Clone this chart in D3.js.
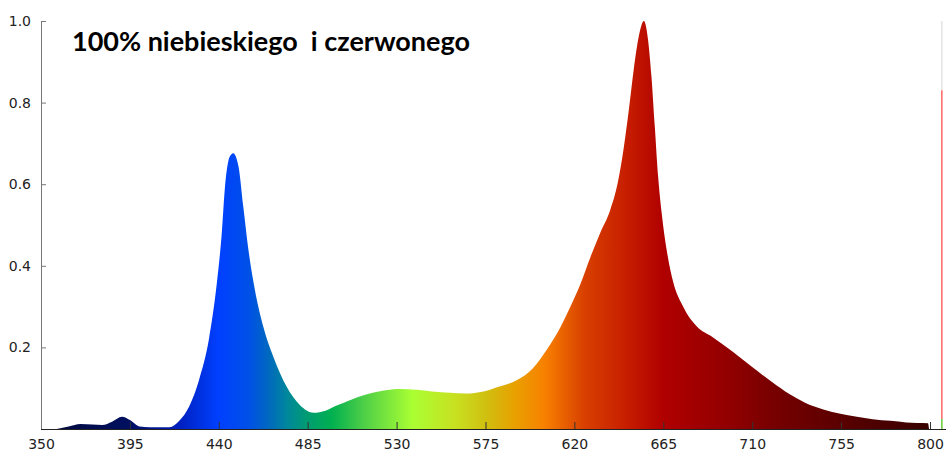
<!DOCTYPE html>
<html>
<head>
<meta charset="utf-8">
<script src="https://cdn.jsdelivr.net/npm/d3@7"></script>
<style>
  body { margin: 0; background: #fff; }
  .tick text { font-family: "DejaVu Sans", sans-serif; font-size: 14px; fill: #222; }
  .title { font-family: Lato, "Open Sans", sans-serif; font-weight: bold; font-size: 26px; white-space: pre; }
</style>
</head>
<body>
<div id="chart"></div>
<script>
var svgWidth = 946;
var svgHeight = 452;

var margin = { top: 21, bottom: 23, left: 41, right: 16 };

// spectrum
var wavelength = [358, 364, 370, 376, 381, 386, 391, 395, 400, 405, 415, 420, 425, 430, 435, 439, 441.5, 443, 445.5, 447.3, 450, 452.4, 455, 458.3, 462.5, 467.6, 474.3, 481, 488, 494, 500, 506, 515, 523, 532, 540, 548, 557, 565, 574, 582, 591, 599, 606, 613, 618, 623, 628, 633, 638, 642, 645, 647.5, 650, 652.5, 655.2, 657.3, 659, 660.7, 662.4, 665, 667, 670, 675, 682, 690, 700, 710, 720, 729, 737, 746, 754, 763, 771, 780, 788, 799, 799.5];
var intensity = [0, 0.006, 0.012, 0.011, 0.010, 0.018, 0.030, 0.022, 0.006, 0.004, 0.004, 0.02, 0.055, 0.12, 0.22, 0.357, 0.48, 0.586, 0.667, 0.676, 0.643, 0.545, 0.439, 0.34, 0.251, 0.177, 0.104, 0.059, 0.040, 0.045, 0.058, 0.070, 0.085, 0.094, 0.098, 0.096, 0.092, 0.089, 0.087, 0.092, 0.104, 0.12, 0.149, 0.194, 0.25, 0.30, 0.355, 0.42, 0.48, 0.535, 0.605, 0.69, 0.78, 0.88, 0.96, 1.0, 0.953, 0.864, 0.741, 0.618, 0.496, 0.43, 0.36, 0.30, 0.251, 0.225, 0.19, 0.152, 0.115, 0.085, 0.064, 0.048, 0.038, 0.030, 0.024, 0.020, 0.016, 0.014, 0];

// colour of the fill along the wavelength axis
var stopNm = [350, 395, 420, 440, 455, 465, 475, 485, 497, 512, 538, 560, 575, 590, 605, 625, 645, 665, 700, 720, 760, 800];
var stopColor = ["#000838", "#001060", "#0020c0", "#0040ff", "#0050e8", "#0068c0", "#00889a", "#009c70", "#00b050", "#48cc48", "#aaff33", "#c8e020", "#d0c010", "#e8a000", "#f88000", "#d84000", "#c82000", "#b00000", "#900000", "#780000", "#560000", "#380000"];

var xTicks = [350, 395, 440, 485, 530, 575, 620, 665, 710, 755, 800];
var yTicks = [0.2, 0.4, 0.6, 0.8, 1.0];

// thin line at the right edge
var markerNm = 806;
var markerSegments = [
  { from: 1.0, to: 0.83, color: "#e4e4e4" },
  { from: 0.83, to: 0.0245, color: "#ff6464" },
  { from: 0.0245, to: 0, color: "#66cc33" }
];

var titleText = "100% niebieskiego  i czerwonego";

var chartHeight = svgHeight - margin.top - margin.bottom;

var svg = d3.select("#chart")
  .append("svg")
  .attr("width", svgWidth)
  .attr("height", svgHeight);

var xScale = d3.scaleLinear()
  .domain([350, 800])
  .range([margin.left, 930]);

var yScale = d3.scaleLinear()
  .domain([0, 1])
  .range([margin.top + chartHeight, margin.top]);

var spectrum = wavelength.map(function(w, i) { return { w: w, v: intensity[i] }; });

// gradient
var grad = svg.append("defs").append("linearGradient")
  .attr("id", "specGrad")
  .attr("gradientUnits", "userSpaceOnUse")
  .attr("x1", xScale(350)).attr("x2", xScale(800))
  .attr("y1", 0).attr("y2", 0);

grad.selectAll("stop")
  .data(stopNm)
  .enter()
  .append("stop")
  .attr("offset", function(d) { return (d - 350) / 450; })
  .attr("stop-color", function(d, i) { return stopColor[i]; });

var area = d3.area()
  .x(function(d) { return xScale(d.w); })
  .y0(yScale(0))
  .y1(function(d) { return yScale(d.v); })
  .curve(d3.curveMonotoneX);

svg.append("path")
  .datum(spectrum)
  .attr("d", area)
  .attr("fill", "url(#specGrad)");

// right edge line
svg.selectAll(".marker")
  .data(markerSegments)
  .enter()
  .append("line")
  .attr("x1", xScale(markerNm)).attr("x2", xScale(markerNm))
  .attr("y1", function(d) { return yScale(d.from); })
  .attr("y2", function(d) { return yScale(d.to); })
  .attr("stroke", function(d) { return d.color; })
  .attr("stroke-width", 1.5);

// axes
var xAxis = d3.axisBottom(xScale)
  .tickValues(xTicks)
  .tickSize(-7)
  .tickPadding(10)
  .tickFormat(d3.format("d"));

var xg = svg.append("g")
  .attr("transform", "translate(0," + yScale(0) + ")")
  .call(xAxis);
xg.select(".domain").remove();
xg.selectAll(".tick line").attr("stroke", "#333");
xg.append("line")
  .attr("x1", margin.left).attr("x2", svgWidth)
  .attr("y1", 0.5).attr("y2", 0.5)
  .attr("stroke", "#222");

var yAxis = d3.axisLeft(yScale)
  .tickValues(yTicks)
  .tickSize(-5)
  .tickPadding(10)
  .tickFormat(d3.format(".1f"));

var yg = svg.append("g")
  .attr("transform", "translate(" + margin.left + ",0)")
  .call(yAxis);
yg.select(".domain")
  .attr("d", "M0.5," + yScale(1) + "V" + yScale(0))
  .attr("stroke", "#777");
yg.selectAll(".tick line").attr("stroke", "#777");

// title
svg.append("text")
  .attr("class", "title")
  .attr("x", 72)
  .attr("y", 51)
  .attr("textLength", 398)
  .attr("lengthAdjust", "spacingAndGlyphs")
  .text(titleText);
</script>
</body>
</html>
